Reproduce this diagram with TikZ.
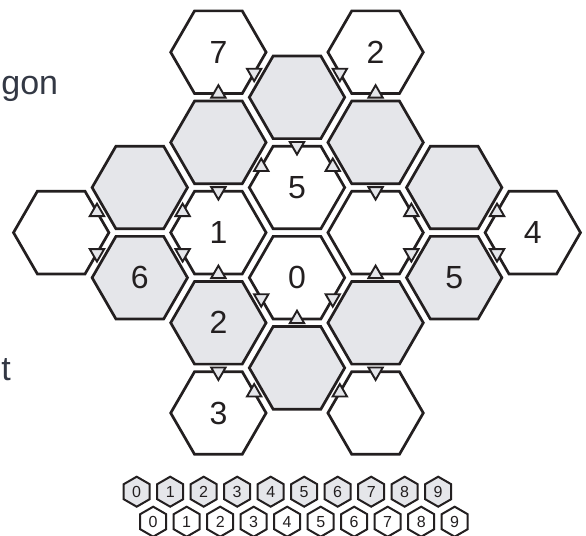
\documentclass[tikz,border=0pt]{standalone}
\usepackage{fontspec}
\setmainfont{Liberation Sans}
\usetikzlibrary{shapes.geometric}
\definecolor{hexink}{HTML}{231F20}
\definecolor{hexgray}{HTML}{E5E6EA}
\definecolor{sidetext}{HTML}{333844}

\begin{document}
\begin{tikzpicture}[
  x=0.5pt,y=-0.5pt,
  line join=miter,
  every node/.style={text=hexink},
  hex/.style={regular polygon,regular polygon sides=6,minimum size=47.7pt,
    inner sep=0pt,outer sep=0pt,draw=hexink,line width=1.35pt,fill=white,
    font=\fontsize{16}{19}\selectfont},
  hexg/.style={hex,fill=hexgray},
  triup/.style={regular polygon,regular polygon sides=3,minimum size=8.3pt,
    inner sep=0pt,outer sep=0pt,draw=hexink,line width=0.95pt,fill=hexgray},
  tridn/.style={triup,shape border rotate=180},
  minihex/.style={regular polygon,regular polygon sides=6,shape border rotate=30,
    minimum size=15pt,inner sep=0pt,draw=hexink,line width=1pt,fill=white,
    font=\fontsize{8}{10}\selectfont},
  minihexg/.style={minihex,fill=hexgray},
  sidelabel/.style={font=\fontsize{17}{20}\selectfont,text=sidetext,inner sep=0pt}
]
\useasboundingbox (0,0) rectangle (586,536);

% Words at the left margin.
\node[sidelabel,anchor=base west] (gonword) at (1,94.5) {gon};
\node[sidelabel,anchor=base west] (tword) at (1,380) {t};

% Hexagon board, top to bottom.
\node[hex] (h7) at (218.4,52.2) {7};
\node[hex] (h2) at (375.6,52.2) {2};
\node[hexg] (ga) at (297,97.3) {};
\node[hexg] (gb) at (218.4,142.4) {};
\node[hexg] (gc) at (375.6,142.4) {};
\node[hexg] (gd) at (139.8,187.5) {};
\node[hex] (h5) at (297,187.5) {5};
\node[hexg] (ge) at (454.2,187.5) {};
\node[hex] (wl) at (61.2,232.6) {};
\node[hex] (h1) at (218.4,232.6) {1};
\node[hex] (wm) at (375.6,232.6) {};
\node[hex] (h4) at (532.8,232.6) {4};
\node[hexg] (g6) at (139.8,277.7) {6};
\node[hex] (h0) at (297,277.7) {0};
\node[hexg] (g5) at (454.2,277.7) {5};
\node[hexg] (g2) at (218.4,322.8) {2};
\node[hexg] (gf) at (375.6,322.8) {};
\node[hexg] (gg) at (297,367.9) {};
\node[hex] (h3) at (218.4,413) {3};
\node[hex] (wb) at (375.6,413) {};

% Edge markers on the white hexagons.
\node[tridn] (t7a) at (h7.330) {};
\node[triup] (t7b) at (h7.270) {};
\node[tridn] (t2a) at (h2.210) {};
\node[triup] (t2b) at (h2.270) {};
\node[tridn] (t5a) at (h5.90) {};
\node[triup] (t5b) at (h5.150) {};
\node[triup] (t5c) at (h5.30) {};
\node[tridn] (t1a) at (h1.90) {};
\node[triup] (t1b) at (h1.150) {};
\node[tridn] (t1c) at (h1.210) {};
\node[triup] (t1d) at (h1.270) {};
\node[tridn] (tma) at (wm.90) {};
\node[triup] (tmb) at (wm.30) {};
\node[tridn] (tmc) at (wm.330) {};
\node[triup] (tmd) at (wm.270) {};
\node[triup] (tla) at (wl.30) {};
\node[tridn] (tlb) at (wl.330) {};
\node[triup] (t4a) at (h4.150) {};
\node[tridn] (t4b) at (h4.210) {};
\node[tridn] (t0a) at (h0.210) {};
\node[tridn] (t0b) at (h0.330) {};
\node[triup] (t0c) at (h0.270) {};
\node[tridn] (t3a) at (h3.90) {};
\node[triup] (t3b) at (h3.30) {};
\node[tridn] (tba) at (wb.90) {};
\node[triup] (tbb) at (wb.150) {};

% Digit strip: grey row above, white row below.
\node[minihexg] (ka0) at (136.7,491.7) {0};
\node[minihexg] (ka1) at (170.2,491.7) {1};
\node[minihexg] (ka2) at (203.7,491.7) {2};
\node[minihexg] (ka3) at (237.2,491.7) {3};
\node[minihexg] (ka4) at (270.7,491.7) {4};
\node[minihexg] (ka5) at (304.2,491.7) {5};
\node[minihexg] (ka6) at (337.7,491.7) {6};
\node[minihexg] (ka7) at (371.2,491.7) {7};
\node[minihexg] (ka8) at (404.7,491.7) {8};
\node[minihexg] (ka9) at (438.2,491.7) {9};
\node[minihex] (kb0) at (153.2,521.7) {0};
\node[minihex] (kb1) at (186.7,521.7) {1};
\node[minihex] (kb2) at (220.2,521.7) {2};
\node[minihex] (kb3) at (253.7,521.7) {3};
\node[minihex] (kb4) at (287.2,521.7) {4};
\node[minihex] (kb5) at (320.7,521.7) {5};
\node[minihex] (kb6) at (354.2,521.7) {6};
\node[minihex] (kb7) at (387.7,521.7) {7};
\node[minihex] (kb8) at (421.2,521.7) {8};
\node[minihex] (kb9) at (454.7,521.7) {9};

\end{tikzpicture}
\end{document}
